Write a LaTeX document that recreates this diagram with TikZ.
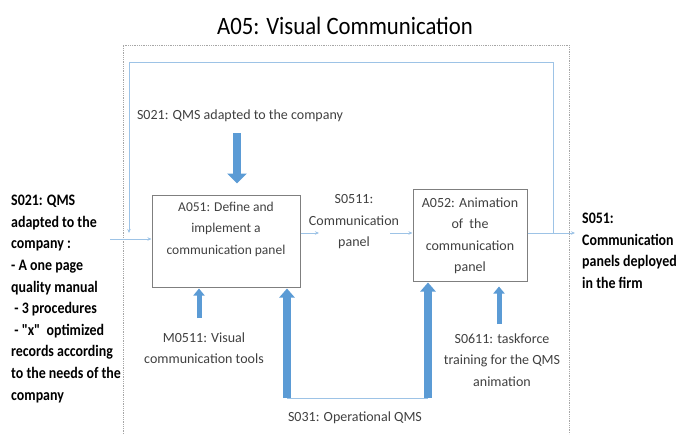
\documentclass[tikz,border=0pt]{standalone}
\usepackage{fontspec}
\setmainfont{Carlito}
\newfontfamily\sidefont{Carlito}[FakeStretch=0.87]
\newfontfamily\titlefont{Carlito}[FakeStretch=0.91]
\usetikzlibrary{arrows.meta}
\definecolor{thickblue}{HTML}{5B9BD5}
\definecolor{thinblue}{HTML}{9DC3E6}
\definecolor{boxgray}{HTML}{7F7F7F}
\definecolor{dotgray}{HTML}{A6A6A6}
\definecolor{txt}{HTML}{404040}
\begin{document}
\begin{tikzpicture}[x=1pt,y=-1pt,
  proc/.style={draw=boxgray, line width=1pt, rectangle, inner sep=0pt},
  lbl/.style={align=center, inner sep=0pt, text=txt, font=\fontsize{14}{21.5}\selectfont},
  side/.style={align=left, inner sep=0pt, text=black, font=\sidefont\bfseries\fontsize{16}{21.6}\selectfont},
  thinarrow/.style={draw=thinblue, line width=1pt, -{Stealth[length=4pt,width=3.5pt]}},
  thinline/.style={draw=thinblue, line width=1pt},
  bigarrow/.style={draw=thickblue, line width=8pt, -{Triangle[length=10pt,width=19pt]}},
  midarrow/.style={draw=thickblue, line width=7.5pt, -{Triangle[length=9pt,width=15pt]}},
  smallarrow/.style={draw=thickblue, line width=5pt, -{Triangle[length=7pt,width=11pt]}}
]
\useasboundingbox (0,0) rectangle (680,434);
% title
\node[inner sep=0pt, text=black, font=\titlefont\fontsize{25}{30}\selectfont] (title) at (345,26) {A05: Visual Communication};
% dotted frame
\draw[dotgray, line width=0.8pt, densely dotted] (123,434) -- (123,45) -- (569,45) -- (569,434);
% boxes
\node[proc, minimum width=148pt, minimum height=92pt] (A051) at (226,241) {};
\node[lbl, font=\fontsize{13.5}{21.5}\selectfont] (A051t) at (226,229) {A051: Define and\\implement a\\communication panel};
\node[proc, minimum width=114pt, minimum height=92pt] (A052) at (470,235) {};
\node[lbl] (A052t) at (470,236) {A052: Animation\\of\ \ the\\communication\\panel};
% labels
\node[lbl] (s021top) at (240,116) {S021: QMS adapted to the company};
\node[lbl] (s0511) at (354,222) {S0511:\\Communication\\panel};
\node[lbl] (m0511) at (204,348) {M0511: Visual\\communication tools};
\node[lbl] (s0611) at (502,360) {S0611: taskforce\\training for the QMS\\animation};
\node[lbl] (s031) at (355,418) {S031: Operational QMS};
\node[side, anchor=north west] (left) at (11,195) {S021: QMS\\adapted to the\\company :\\- A one page\\quality manual\\\ - 3 procedures\\\ - "x"\ \ optimized\\records according\\to the needs of the\\company};
\node[side, anchor=north west] (right) at (582,213) {S051:\\Communication\\panels deployed\\in the firm};
% coordinates
\coordinate (inL) at (110,239);
\coordinate (fbTL) at (129,62);
\coordinate (fbTR) at (553,62);
\coordinate (fbEnd) at (129,233);
\coordinate (o1) at (319,233);
\coordinate (i2) at (390,233);
\coordinate (outE) at (575,233);
\coordinate (topA) at (237,133);
\coordinate (mA) at (199,318);
\coordinate (sA) at (499,324);
\coordinate (bL) at (287,398);
\coordinate (bR) at (428,398);
% thin connectors
\draw[thinarrow] (inL) -- (A051.west |- inL);
\draw[thinarrow] (A051.east |- o1) -- (o1);
\draw[thinarrow] (i2) -- (A052.west |- i2);
\draw[thinarrow] (A052.east |- outE) -- (outE);
\draw[thinarrow] (fbTR |- outE) -- (fbTR) -- (fbTL) -- (fbEnd);
\draw[thinline] (bL) -- (bR);
% thick arrows
\draw[bigarrow] (topA) -- ([yshift=11pt]A051.north -| topA);
\draw[smallarrow] (mA) -- ([yshift=-1pt]A051.south -| mA);
\draw[midarrow] (bL) -- ([yshift=-1pt]A051.south -| bL);
\draw[midarrow] (bR) -- ([yshift=-1pt]A052.south -| bR);
\draw[smallarrow] (sA) -- ([yshift=-5pt]A052.south -| sA);
\end{tikzpicture}
\end{document}
